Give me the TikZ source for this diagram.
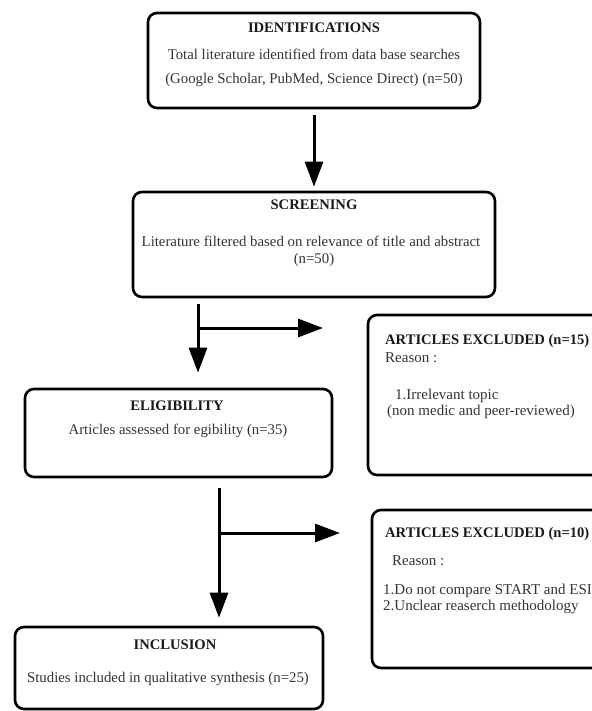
\documentclass[tikz,border=0pt]{standalone}
\usepackage{fontspec}
\setmainfont{Liberation Serif}
\usetikzlibrary{arrows.meta}
\tikzstyle{box}=[draw, rounded corners=9pt, line width=2.6pt, inner sep=0pt]
\tikzstyle{arr}=[line width=3pt, -{Triangle[length=25pt,width=18pt]}]
\tikzstyle{head}=[font=\fontsize{14.6}{17}\selectfont\bfseries, inner sep=0pt, anchor=mid, text=black!90]
\tikzstyle{txt}=[font=\fontsize{14.8}{17}\selectfont, inner sep=0pt, anchor=mid, text=black!80]
\tikzstyle{side}=[font=\fontsize{15}{17}\selectfont, inner sep=0pt, anchor=mid west, text=black!80]

\begin{document}
\begin{tikzpicture}[x=1pt, y=-1pt]
\useasboundingbox (0,0) rectangle (591,711);
% Boxes
    \node[box, minimum width=332, minimum height=95] (ident) at (314,60.5) {};
    \node[box, minimum width=362, minimum height=105] (scr) at (314,244.5) {};
    \node[box, minimum width=307, minimum height=88] (elig) at (178.5,433) {};
    \node[box, minimum width=240, minimum height=160] (excla) at (488,395) {};
    \node[box, minimum width=236, minimum height=158] (exclb) at (490,589) {};
    \node[box, minimum width=308, minimum height=82] (incl) at (169,668) {};
% Texts
    \node[head] (identT) at (314,30) {IDENTIFICATIONS};
    \node[txt] (identA) at (314,57) {Total literature identified from data base searches};
    \node[txt] (identB) at (314,81) {(Google Scholar, PubMed, Science Direct) (n=50)};
    \node[head] (scrT) at (314,207) {SCREENING};
    \node[txt] (scrA) at (311,244) {Literature filtered based on relevance of title and abstract};
    \node[txt] (scrB) at (314,261) {(n=50)};
    \node[head] (eligT) at (177,408) {ELIGIBILITY};
    \node[txt] (eligA) at (178,432) {Articles assessed for egibility (n=35)};
    \node[head, anchor=mid west] (exclaT) at (385,342) {ARTICLES EXCLUDED (n=15)};
    \node[side] (exclaA) at (385,360) {Reason :};
    \node[side] (exclaB) at (395,397) {1.Irrelevant topic};
    \node[side] (exclaC) at (387,413) {(non medic and peer-reviewed)};
    \node[head, anchor=mid west] (exclbT) at (385,535) {ARTICLES EXCLUDED (n=10)};
    \node[side] (exclbA) at (392,563) {Reason :};
    \node[side] (exclbB) at (383,592) {1.Do not compare START and ESI};
    \node[side] (exclbC) at (383,608) {2.Unclear reaserch methodology};
    \node[head] (inclT) at (175,647) {INCLUSION};
    \node[txt] (inclA) at (168,680) {Studies included in qualitative synthesis (n=25)};
% Arrows
    \coordinate (topA) at (198,304);
    \coordinate (splitA) at (198,328);
    \coordinate (endA) at (323,328);
    \coordinate (topB) at (219,488);
    \coordinate (splitB) at (219,533);
    \coordinate (endB) at (340,533);
    \draw[arr, shorten <=6pt, shorten >=4pt] (ident) -- (scr);
    \draw[arr, shorten >=15pt] (topA) -- (elig.north -| topA);
    \draw[arr] (splitA) -- (endA);
    \draw[arr, shorten >=8pt] (topB) -- (incl.north -| topB);
    \draw[arr] (splitB) -- (endB);
\end{tikzpicture}
\end{document}
